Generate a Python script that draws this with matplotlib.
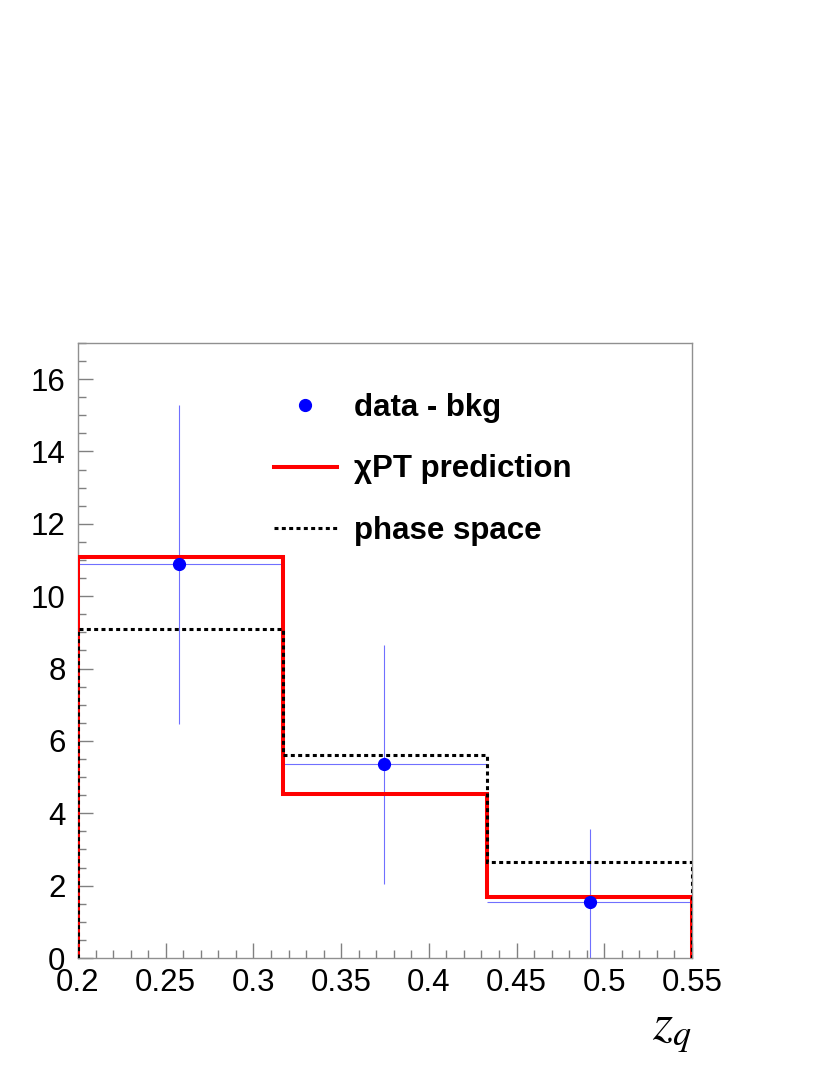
import numpy as np
import matplotlib.pyplot as plt
from matplotlib.lines import Line2D
from matplotlib.ticker import MultipleLocator

# bin edges and histogram contents
edges = [0.2, 0.31667, 0.43333, 0.55]
chpt = [11.07, 4.54, 1.68]
phsp = [9.10, 5.61, 2.65]

# data - bkg points
data_x = [0.2576, 0.3745, 0.4919]
data_y = [10.88, 5.36, 1.54]
data_err = [4.40, 3.30, 2.03]

plt.rcParams['font.family'] = ['Liberation Sans', 'DejaVu Sans']

fig = plt.figure(figsize=(8.3, 10.75), dpi=100)
ax = fig.add_axes([0.094, 0.1088, 0.7397, 0.5722])

xc = np.array(data_x)
xerr_lo = xc - np.array(edges[:-1])
xerr_hi = np.array(edges[1:]) - xc
ax.errorbar(data_x, data_y, yerr=data_err, xerr=[xerr_lo, xerr_hi], fmt='none',
            ecolor='#7070ff', elinewidth=0.8, capsize=0, zorder=2)
ax.stairs(chpt, edges, baseline=0, color='#ff0000', lw=2.9, zorder=3)
ax.stairs(phsp, edges, baseline=0, color='black', lw=2.2, linestyle=(0, (1.3, 1.1)), zorder=4)
ax.plot(data_x, data_y, 'o', color='#0000ff', ms=8.5, zorder=5)

ax.set_xlim(0.2, 0.55)
ax.set_ylim(0, 17)
ax.xaxis.set_minor_locator(MultipleLocator(0.01))
ax.yaxis.set_major_locator(MultipleLocator(2))
ax.yaxis.set_minor_locator(MultipleLocator(0.5))
ax.set_xticks([0.2, 0.25, 0.3, 0.35, 0.4, 0.45, 0.5, 0.55])
ax.set_xticklabels(['0.2', '0.25', '0.3', '0.35', '0.4', '0.45', '0.5', '0.55'])
ax.tick_params(which='both', direction='in', colors='#808080', labelcolor='black',
               labelsize=22.5)
ax.tick_params(which='major', length=11, width=1)
ax.tick_params(which='minor', length=5.5, width=1)
ax.tick_params(axis='x', pad=7)
ax.tick_params(axis='y', pad=9)
for s in ax.spines.values():
    s.set_color('#909090')
    s.set_linewidth(1)

ax.set_xlabel(r'$z_q$', fontsize=37, math_fontfamily='stix', loc='right', labelpad=6)

handles = [
    Line2D([], [], marker='o', color='#0000ff', ls='none', ms=8.5),
    Line2D([], [], color='#ff0000', lw=2.9),
    Line2D([], [], color='black', lw=2.2, linestyle=(0, (1.3, 1.1))),
]
labels = ['data - bkg', 'χPT prediction', 'phase space']
leg = ax.legend(handles, labels, loc='upper left', bbox_to_anchor=(0.2735, 0.965),
                frameon=False, prop={'weight': 'bold', 'size': 22.5},
                handlelength=2.0, handletextpad=0.55, labelspacing=1.02)

fig.savefig('out.png', dpi=100)
